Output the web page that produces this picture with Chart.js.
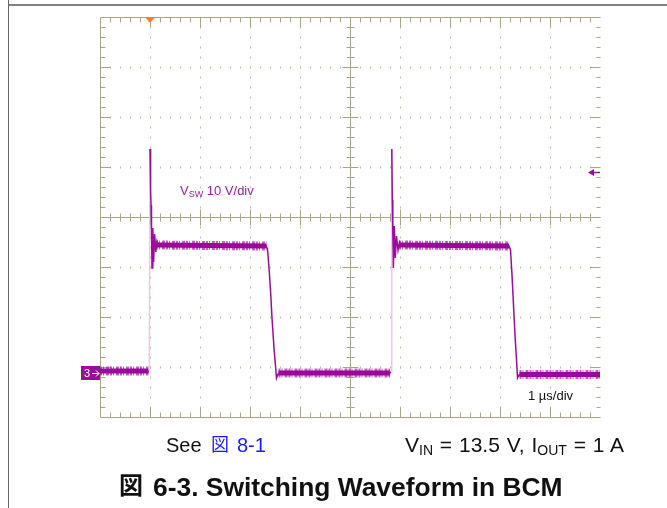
<!DOCTYPE html>
<html>
<head>
<meta charset="utf-8">
<script src="https://cdn.jsdelivr.net/npm/chart.js@4.4.1/dist/chart.umd.min.js"></script>
<style>
  html, body { margin: 0; padding: 0; background: #fff; }
  body { width: 667px; height: 508px; position: relative; overflow: hidden; font-family: "Liberation Sans", Arial, sans-serif; }
  #chart { position: absolute; left: 0; top: 0; }
  .frame-left { position: absolute; left: 8px; top: 0; width: 1px; height: 508px; background: #666; }
  .frame-top { position: absolute; left: 9px; top: 4px; width: 658px; height: 2px; background: #808080; }
  .txt { position: absolute; white-space: nowrap; line-height: 1; }
  .cjk { font-family: "Noto Sans CJK JP", sans-serif; }
  .sub { vertical-align: -3px; line-height: 0; }
  .link { color: #1a1aff; }
</style>
</head>
<body>
<canvas id="chart" width="667" height="508"></canvas>
<div class="frame-left"></div>
<div class="frame-top"></div>

<div class="txt" style="left:180px; top:184px; font-size:13px; color:#a01ca0;">V<span class="sub" style="font-size:9px; vertical-align:-2px;">SW</span> 10 V/div</div>
<div class="txt" style="left:528px; top:389px; font-size:13px; color:#111;">1 µs/div</div>

<div class="txt" style="left:166px; top:435px; font-size:20px; color:#111;">See</div>
<div class="txt link cjk" style="left:211px; top:434px; font-size:18px;">図</div>
<div class="txt link" style="left:237px; top:435px; font-size:20px;">8-1</div>
<div class="txt" style="left:405px; top:434px; font-size:21px; word-spacing:1px; color:#111;">V<span class="sub" style="font-size:14px;">IN</span> = 13.5 V, I<span class="sub" style="font-size:14px;">OUT</span> = 1 A</div>

<div class="txt cjk" style="left:119px; top:472px; font-size:24px; font-weight:bold; color:#111;">図</div>
<div class="txt" style="left:153px; top:474px; font-size:26.4px; font-weight:bold; color:#111;">6-3. Switching Waveform in BCM</div>

<script>
// Scope settings: 1 us/div horizontally, 10 V/div vertically
const X_MIN_US = -1;
const X_MAX_US = 9;
const US_PER_DIV = 1;
const Y_MIN_V = -8.8;
const Y_MAX_V = 71.2;
const V_PER_DIV = 10;
const MINOR_PER_DIV = 5;

// Markers
const TRIGGER_TIME_US = 0;
const TRIGGER_LEVEL_V = 40.2;
const GROUND_V = 0;
const CHANNEL_LABEL = '3';

// V_SW trace
const timeUs = [
  -1.0, -0.02, -0.014, 0.0, 0.012, 0.02, 0.03, 0.04, 0.056, 0.072, 0.092, 0.116, 0.14, 0.17,
  1.2, 2.32, 2.35, 2.38, 2.41, 2.44, 2.48, 2.51, 2.53, 2.56,
  4.8, 4.82, 4.836, 4.846, 4.856, 4.868, 4.886, 4.906, 4.93, 4.96, 4.99, 5.02,
  6.1, 7.18, 7.21, 7.24, 7.27, 7.30, 7.33, 7.35, 7.38, 9.0,
];
const vswV = [
  0.4, 0.4, 0.4, 44.8, 36.6, 33.6, 29.6, 21.0, 29.0, 22.2, 27.8, 24.2, 26.4, 25.6,
  25.5, 25.4, 24.8, 21.0, 16.6, 11.0, 5.0, 1.4, -1.0, -0.2,
  0.0, 0.2, 44.8, 34.6, 28.6, 21.0, 29.4, 23.0, 27.4, 24.6, 26.2, 25.6,
  25.6, 25.4, 24.6, 19.6, 13.6, 7.6, 2.6, -1.0, -0.4, -0.2,
];

// Noise band on the flat parts (null breaks the line)
const bandTimeUs = [-1.0, -0.03, null, 0.12, 2.33, null, 2.57, 4.8, null, 4.98, 7.18, null, 7.39, 9.0];
const bandV = [0.4, 0.4, null, 25.6, 25.4, null, 0.0, 0.0, null, 25.6, 25.4, null, -0.3, -0.3];

const toPoints = (xs, ys) => xs.map((t, i) => ({ x: t === null ? NaN : t, y: ys[i] }));

const GRID = '#a9a58b';
const DOT = '#bdb9a4';
const TRACE = '#9a0c9a';

const graticule = {
  id: 'graticule',
  beforeDatasetsDraw(chart) {
    const { ctx, scales: { x, y } } = chart;
    const nx = Math.round((X_MAX_US - X_MIN_US) / US_PER_DIV);
    const ny = Math.round((Y_MAX_V - Y_MIN_V) / V_PER_DIV);
    const px = t => Math.round(x.getPixelForValue(t)) + 0.5;
    const py = v => Math.round(y.getPixelForValue(v)) + 0.5;
    const cx = px(X_MIN_US + nx / 2 * US_PER_DIV);
    const cy = py(Y_MIN_V + ny / 2 * V_PER_DIV);
    const left = px(X_MIN_US), right = px(X_MAX_US);
    const top = py(Y_MAX_V), bottom = py(Y_MIN_V);

    ctx.save();
    // dotted division lines
    ctx.fillStyle = DOT;
    for (let i = 1; i < nx; i++) {
      if (i === nx / 2) continue;
      const gx = px(X_MIN_US + i * US_PER_DIV) - 0.5;
      for (let k = 1; k < ny * MINOR_PER_DIV; k++) {
        ctx.fillRect(gx, py(Y_MIN_V + k * V_PER_DIV / MINOR_PER_DIV) - 1, 1, 2);
      }
    }
    for (let j = 1; j < ny; j++) {
      if (j === ny / 2) continue;
      const gy = py(Y_MIN_V + j * V_PER_DIV) - 1;
      for (let k = 1; k < nx * MINOR_PER_DIV; k++) {
        ctx.fillRect(px(X_MIN_US + k * US_PER_DIV / MINOR_PER_DIV) - 0.5, gy, 1, 2);
      }
    }

    ctx.strokeStyle = GRID;
    ctx.lineWidth = 1;
    ctx.beginPath();
    // frame: left, top, bottom lines and centre axes
    ctx.moveTo(left, top); ctx.lineTo(left, bottom);
    ctx.moveTo(left, top); ctx.lineTo(right, top);
    ctx.moveTo(left, bottom); ctx.lineTo(right, bottom);
    ctx.moveTo(left, cy); ctx.lineTo(right, cy);
    ctx.moveTo(cx, top); ctx.lineTo(cx, bottom);

    // ticks along x
    for (let k = 1; k < nx * MINOR_PER_DIV; k++) {
      const gx = px(X_MIN_US + k * US_PER_DIV / MINOR_PER_DIV);
      const major = k % MINOR_PER_DIV === 0;
      ctx.moveTo(gx, top); ctx.lineTo(gx, top + (major ? 10 : 5));
      ctx.moveTo(gx, bottom); ctx.lineTo(gx, bottom - (major ? 10 : 5));
      ctx.moveTo(gx, cy - (major ? 8 : 4)); ctx.lineTo(gx, cy + (major ? 8 : 4));
    }
    // ticks along y
    for (let k = 1; k < ny * MINOR_PER_DIV; k++) {
      const gy = py(Y_MIN_V + k * V_PER_DIV / MINOR_PER_DIV);
      const major = k % MINOR_PER_DIV === 0;
      ctx.moveTo(left, gy); ctx.lineTo(left + (major ? 10 : 5), gy);
      ctx.moveTo(right, gy); ctx.lineTo(right - (major ? 10 : 4), gy);
      ctx.moveTo(cx - (major ? 8 : 4), gy); ctx.lineTo(cx + (major ? 8 : 4), gy);
    }
    ctx.stroke();
    ctx.restore();
  },
  afterDraw(chart) {
    const { ctx, chartArea: a, scales: { x, y } } = chart;
    ctx.save();
    // trigger position (orange, top edge)
    const tx = x.getPixelForValue(TRIGGER_TIME_US);
    ctx.fillStyle = '#ff7a26';
    ctx.beginPath();
    ctx.moveTo(tx - 5, a.top);
    ctx.lineTo(tx + 5, a.top);
    ctx.lineTo(tx, a.top + 6);
    ctx.closePath();
    ctx.fill();

    // ground reference marker (left)
    const gy = Math.round(y.getPixelForValue(GROUND_V));
    ctx.fillStyle = TRACE;
    ctx.fillRect(a.left - 19, gy - 7, 19, 14);
    ctx.fillStyle = '#fff';
    ctx.font = '11px "Liberation Sans", Arial, sans-serif';
    ctx.textBaseline = 'middle';
    ctx.fillText(CHANNEL_LABEL, a.left - 16, gy + 1);
    ctx.strokeStyle = '#fff';
    ctx.lineWidth = 1;
    ctx.beginPath();
    ctx.moveTo(a.left - 8, gy + 0.5); ctx.lineTo(a.left - 1, gy + 0.5);
    ctx.moveTo(a.left - 4, gy - 2.5); ctx.lineTo(a.left - 1, gy + 0.5); ctx.lineTo(a.left - 4, gy + 3.5);
    ctx.stroke();

    // trigger level marker (right)
    const ly = Math.round(y.getPixelForValue(TRIGGER_LEVEL_V)) + 0.5;
    ctx.strokeStyle = TRACE;
    ctx.fillStyle = TRACE;
    ctx.lineWidth = 1.5;
    ctx.beginPath();
    ctx.moveTo(a.right, ly); ctx.lineTo(a.right - 8, ly);
    ctx.stroke();
    ctx.beginPath();
    ctx.moveTo(a.right - 12, ly); ctx.lineTo(a.right - 6, ly - 3.5); ctx.lineTo(a.right - 6, ly + 3.5);
    ctx.closePath();
    ctx.fill();
    ctx.restore();
  },
};

const bandPoints = toPoints(bandTimeUs, bandV);

new Chart(document.getElementById('chart'), {
  type: 'line',
  data: {
    datasets: [
      {
        data: toPoints(timeUs, vswV),
        borderColor: TRACE,
        borderWidth: 1.5,
        pointRadius: 0,
        tension: 0,
        order: 0,
        segment: {
          // fast rising edges show up faint on the scope
          borderColor: c => (c.p1.parsed.y - c.p0.parsed.y > 30 ? '#eec6ee' : undefined),
        },
      },
      {
        // dense core of the noise band
        data: bandPoints,
        borderColor: '#980898',
        borderWidth: 5,
        borderCapStyle: 'butt',
        pointRadius: 0,
        spanGaps: false,
        order: 1,
      },
      {
        // lighter fringe of the noise band
        data: bandPoints,
        borderColor: 'rgba(176, 40, 176, 0.75)',
        borderWidth: 9,
        borderCapStyle: 'butt',
        borderDash: [2, 1, 1, 2, 3, 1],
        pointRadius: 0,
        spanGaps: false,
        order: 2,
      },
    ],
  },
  options: {
    responsive: false,
    animation: false,
    events: [],
    layout: { padding: { left: 100, right: 67, top: 17, bottom: 91 } },
    plugins: { legend: { display: false }, tooltip: { enabled: false } },
    scales: {
      x: { type: 'linear', min: X_MIN_US, max: X_MAX_US, display: false },
      y: { type: 'linear', min: Y_MIN_V, max: Y_MAX_V, display: false },
    },
  },
  plugins: [graticule],
});
</script>
</body>
</html>
